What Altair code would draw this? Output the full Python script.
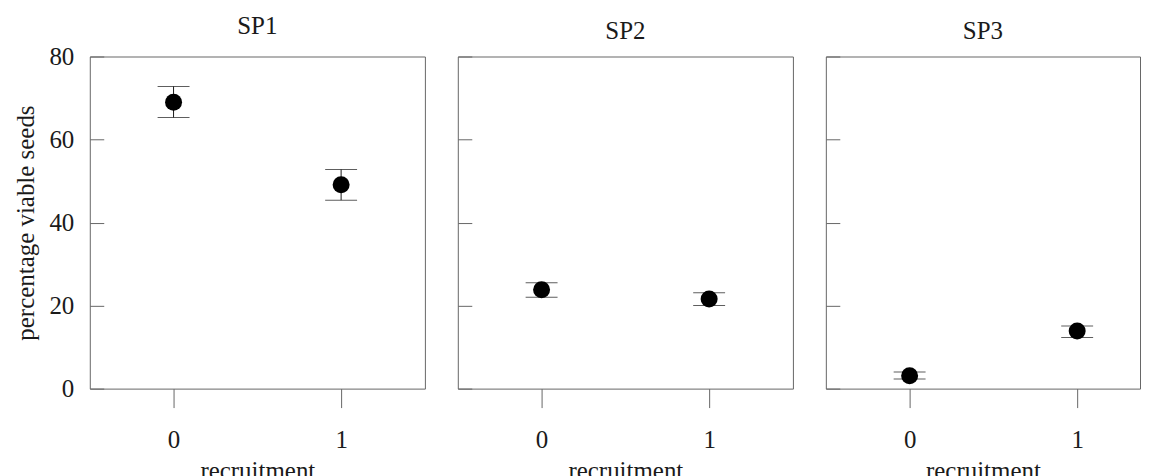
import altair as alt
import pandas as pd

species = ["SP1", "SP2", "SP3"]
recruitment = [0, 1]
mean_sp1 = [69.0, 49.1]
low_sp1 = [65.3, 45.4]
high_sp1 = [72.8, 52.8]
mean_sp2 = [23.8, 21.6]
low_sp2 = [22.0, 20.0]
high_sp2 = [25.5, 23.1]
mean_sp3 = [3.1, 13.9]
low_sp3 = [2.3, 12.3]
high_sp3 = [4.0, 15.1]
y_ticks = [0, 20, 40, 60, 80]
x_ticks = [0, 1]

means = [mean_sp1, mean_sp2, mean_sp3]
lows = [low_sp1, low_sp2, low_sp3]
highs = [high_sp1, high_sp2, high_sp3]

FONT = "Liberation Serif"
FS = 25
FRAME = "#666666"
INK = "#1a1a1a"
PX_PER_UNIT = 168.0
widths = [336, 336, 315]
title_offsets = [5.5, 12, 12]


def panel(i):
    df = pd.DataFrame({
        "recruitment": recruitment,
        "mean": means[i],
        "low": lows[i],
        "high": highs[i],
    })
    first = i == 0
    w = widths[i]
    xscale = alt.Scale(domain=[-0.5, -0.5 + w / PX_PER_UNIT], nice=False, zero=False)
    x = alt.X("recruitment:Q", scale=xscale,
              axis=alt.Axis(values=x_ticks, title="recruitment", grid=False, domain=False,
                            tickSize=19, tickColor=FRAME, labelPadding=20, labelFontSize=FS,
                            titleFontSize=FS, labelFont=FONT, titleFont=FONT,
                            titleFontWeight="normal", titlePadding=6, labelColor=INK,
                            titleColor=INK, format="d"))
    yscale = alt.Scale(domain=[0, 80], nice=False)
    yaxis = alt.Axis(values=y_ticks, title="percentage viable seeds" if first else None,
                     labels=first, grid=False, domain=False, offset=-14, tickSize=14,
                     tickColor=FRAME, labelPadding=16, labelFontSize=FS, titleFontSize=FS,
                     labelFont=FONT, titleFont=FONT, titleFontWeight="normal",
                     titlePadding=10, labelColor=INK, titleColor=INK)
    base = alt.Chart(df)
    rule = base.mark_rule(color=INK, strokeWidth=1).encode(
        x=x, y=alt.Y("low:Q", scale=yscale, axis=yaxis), y2="high:Q")
    cap_lo = base.mark_tick(orient="horizontal", size=32, thickness=1, color=INK).encode(
        x=x, y=alt.Y("low:Q"))
    cap_hi = base.mark_tick(orient="horizontal", size=32, thickness=1, color=INK).encode(
        x=x, y=alt.Y("high:Q"))
    pts = base.mark_circle(size=290, color="black", opacity=1).encode(
        x=x, y=alt.Y("mean:Q", scale=yscale, axis=yaxis))
    return alt.layer(rule, cap_lo, cap_hi, pts).properties(
        width=w, height=333,
        title=alt.TitleParams(species[i], font=FONT, fontSize=FS, fontWeight="normal",
                              color=INK, offset=title_offsets[i]),
    )


chart = alt.hconcat(*[panel(i) for i in range(3)], spacing=31).properties(
    padding={"left": 5, "top": 5, "right": 0, "bottom": 0}
).configure(background="white").configure_view(stroke=FRAME, strokeWidth=1)

chart.save("out.html", embed_options={"renderer": "svg", "actions": False})
